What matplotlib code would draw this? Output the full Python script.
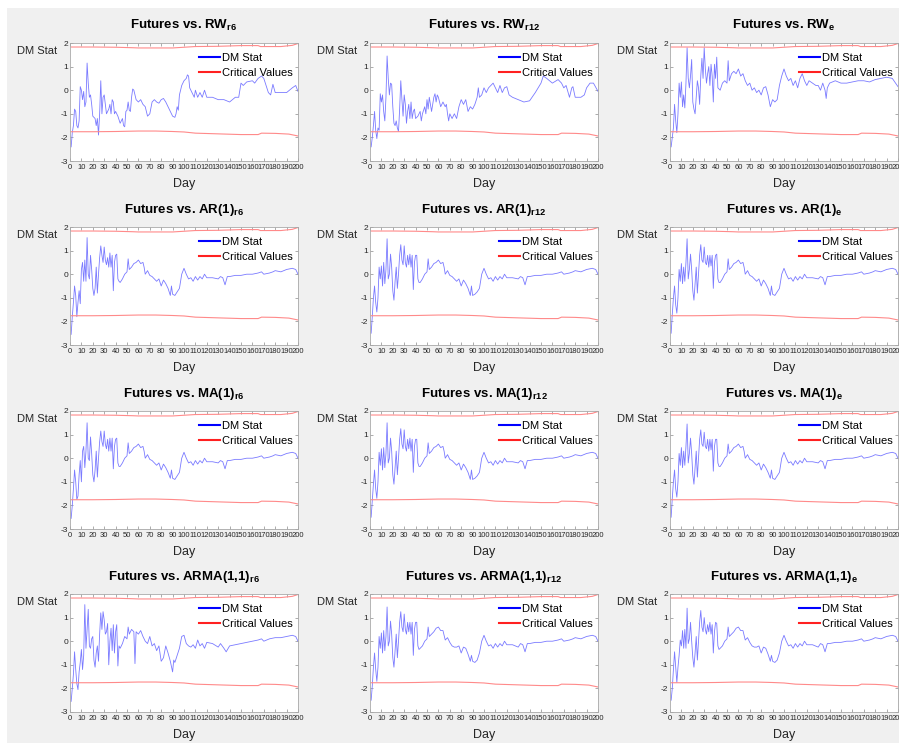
import matplotlib
matplotlib.use("Agg")
import matplotlib.pyplot as plt
import matplotlib.font_manager as fm
from matplotlib.patches import Rectangle
from matplotlib.lines import Line2D

# ---- data: (day, DM statistic) ----
rw_r6 = [(1,-2.4),(2,-1.8),(3,-1.5),(4,-0.8),(5,-0.9),(6,-1.5),(7,-1.6),(8,-1.3),(9,0.15),(10,0.0),
         (11,-0.4),(12,-0.05),(13,-0.7),(14,-0.5),(15,1.15),(16,0.3),(17,-0.3),(18,-0.2),(19,-0.6),(20,-1.1),
         (22,-1.2),(23,-1.5),(24,-1.2),(25,-1.9),(26,-1.0),(27,0.4),(28,-1.0),(29,-0.3),(30,-0.2),(31,-0.6),
         (32,-1.0),(34,-0.8),(35,-0.6),(36,-1.0),(37,-0.4),(38,-0.5),(39,-1.0),(40,-0.9),(42,-1.1),(44,-1.4),
         (46,-1.2),(47,-1.5),(48,-1.55),(49,-0.9),(50,-0.85),(51,-0.5),(52,-0.85),(53,-0.9),(54,-0.3),(55,0.05),
         (56,0.0),(58,-0.4),(60,-0.5),(62,-0.4),(64,-0.6),(66,-0.7),(68,-1.1),(70,-1.0),(72,-0.5),(74,-0.4),
         (76,-0.5),(78,-0.55),(80,-0.4),(82,-0.35),(84,-0.5),(86,-0.7),(88,-0.9),(90,-1.1),(92,-1.15),(93,-1.0),
         (94,-0.7),(95,-0.85),(96,-0.2),(98,0.2),(100,0.4),(102,0.5),(103,0.65),(104,0.6),(105,0.1),(107,-0.1),
         (109,-0.3),(110,0.0),(112,-0.3),(114,-0.1),(116,-0.3),(118,0.0),(120,-0.3),(125,-0.3),(130,-0.4),(135,-0.4),
         (140,-0.5),(145,-0.3),(148,-0.3),(150,0.3),(152,0.2),(155,0.35),(160,0.4),(162,0.3),(165,0.5),(168,0.6),
         (170,0.5),(172,0.2),(174,-0.1),(176,-0.2),(178,0.25),(180,-0.1),(185,-0.1),(190,-0.1),(195,0.1),(198,0.2),
         (200,-0.05)]

rw_r12 = [(1,-2.4),(2,-2.0),(3,-1.5),(4,-0.9),(5,-1.7),(6,-2.05),(7,-1.6),(8,-1.7),(9,-0.15),(10,-0.5),
          (11,-0.2),(12,-0.9),(13,-1.3),(14,-0.3),(15,1.45),(16,0.5),(17,-0.2),(18,0.3),(19,0.25),(20,-0.7),
          (21,-1.4),(22,-1.5),(23,-1.3),(24,-1.6),(25,-1.75),(26,-0.8),(27,0.4),(28,-0.4),(29,-1.1),(30,-0.2),
          (31,-0.6),(32,-1.4),(33,-0.9),(34,-0.6),(35,-1.2),(36,-0.5),(37,-1.2),(38,-0.9),(39,-0.8),(40,-1.2),
          (42,-1.1),(44,-0.9),(45,-1.3),(46,-1.0),(48,-0.7),(49,-1.0),(50,-0.4),(51,-0.8),(52,-0.3),(54,-0.9),
          (56,-0.3),(57,-0.15),(58,-0.5),(59,-0.2),(60,-0.3),(62,-0.7),(64,-0.5),(66,-0.7),(67,-0.6),(68,-1.0),
          (69,-1.3),(70,-1.0),(72,-1.2),(74,-1.0),(76,-1.2),(78,-0.7),(80,-0.4),(82,-0.6),(84,-0.4),(86,-0.9),
          (88,-0.7),(90,-0.8),(92,-0.6),(94,-0.3),(95,0.1),(96,-0.3),(98,-0.2),(100,0.1),(102,-0.1),(104,0.1),
          (106,0.2),(108,0.3),(110,0.1),(112,-0.1),(114,0.2),(116,-0.1),(118,0.1),(120,0.15),(122,-0.2),(125,-0.3),
          (130,-0.4),(135,-0.5),(140,-0.45),(145,-0.1),(150,0.3),(152,0.6),(155,0.5),(160,0.3),(165,0.45),(168,0.3),
          (170,0.1),(172,0.2),(175,-0.3),(177,0.1),(178,0.15),(180,-0.3),(185,-0.3),(188,-0.2),(190,0.1),(193,0.3),
          (196,0.3),(200,-0.05)]

rw_e = [(1,-2.4),(2,-2.0),(3,-1.6),(4,-0.6),(5,-1.3),(6,-1.8),(7,-1.0),(8,0.3),(9,-0.3),(10,0.35),
        (11,-0.7),(12,-0.2),(13,-0.75),(14,0.3),(15,1.8),(16,0.5),(17,0.1),(18,0.6),(19,1.3),(20,-0.5),
        (21,-0.8),(22,-1.0),(23,-0.3),(24,0.4),(25,0.1),(26,-0.6),(27,0.6),(28,1.35),(29,0.5),(30,1.8),
        (31,0.9),(32,0.3),(33,0.7),(34,1.0),(35,0.2),(36,1.1),(37,0.6),(38,-0.5),(39,1.1),(40,0.5),
        (41,1.4),(42,0.1),(44,0.0),(46,0.3),(48,0.4),(50,0.3),(51,1.25),(52,0.4),(54,0.7),(56,0.8),
        (58,0.7),(60,0.9),(62,0.6),(64,0.7),(66,0.4),(68,0.2),(70,0.3),(72,0.0),(74,0.1),(76,-0.1),
        (78,0.0),(80,-0.2),(82,0.1),(84,0.15),(86,-0.2),(88,-0.7),(90,-0.4),(92,-0.5),(94,-0.4),(96,0.2),
        (98,0.6),(100,0.9),(102,0.6),(104,0.4),(106,0.5),(108,0.2),(110,0.4),(112,0.1),(114,0.5),(116,0.7),
        (118,0.4),(120,0.2),(122,0.4),(125,0.3),(128,0.2),(130,0.2),(132,0.0),(134,0.3),(136,0.0),(137,-0.35),
        (138,0.1),(140,0.3),(145,0.4),(150,0.3),(155,0.3),(160,0.35),(165,0.4),(170,0.4),(175,0.35),(180,0.45),
        (185,0.5),(190,0.55),(195,0.5),(200,0.15)]

ar_r6 = [(1,-2.55),(2,-1.8),(3,-1.2),(4,-0.5),(5,-0.9),(6,-1.8),(7,-1.2),(8,-0.7),(9,-1.25),(10,0.2),
         (11,0.5),(12,-0.3),(13,0.6),(14,-0.3),(15,1.55),(16,0.0),(17,-0.2),(18,0.8),(19,0.2),(20,-0.6),
         (21,-0.9),(22,-0.6),(23,0.3),(24,-0.8),(25,0.0),(26,0.7),(27,1.2),(28,0.8),(29,0.5),(30,1.15),
         (31,0.6),(32,0.4),(33,0.7),(34,0.3),(35,0.9),(36,0.3),(37,0.8),(38,-0.7),(39,0.5),(40,0.8),
         (41,0.85),(42,-0.2),(43,-0.3),(44,-0.35),(46,-0.2),(48,0.0),(50,0.1),(51,0.65),(52,0.2),(54,0.3),
         (56,0.45),(58,0.5),(60,0.6),(62,0.45),(64,0.5),(65,0.3),(66,0.0),(68,0.15),(70,-0.05),(72,-0.1),
         (74,-0.2),(76,-0.3),(78,-0.2),(80,-0.5),(82,-0.25),(84,-0.4),(86,-0.6),(88,-0.9),(89,-0.5),(90,-0.85),
         (92,-0.9),(94,-0.75),(96,-0.6),(98,0.0),(100,0.25),(102,0.0),(104,-0.2),(106,-0.15),(108,-0.3),(110,-0.1),
         (112,-0.25),(114,-0.1),(116,-0.2),(118,0.0),(120,-0.15),(125,-0.15),(130,-0.2),(132,-0.1),(134,-0.15),(136,-0.45),
         (138,-0.1),(140,-0.1),(145,-0.05),(150,-0.05),(155,0.0),(160,0.0),(165,0.05),(168,0.1),(170,0.0),(175,0.05),
         (178,0.1),(180,0.15),(185,0.1),(190,0.2),(195,0.25),(198,0.2),(200,0.0)]

ar_r12 = [(1,-2.5),(2,-1.8),(3,-1.0),(4,-0.5),(5,-1.2),(6,-1.6),(7,-1.0),(8,0.3),(9,-0.2),(10,0.35),
          (11,-0.5),(12,0.5),(13,-0.4),(14,0.2),(15,1.5),(16,-0.2),(17,0.0),(18,0.85),(19,0.3),(20,-0.7),
          (21,-1.1),(22,-0.3),(23,0.3),(24,-0.6),(25,0.0),(26,0.8),(27,1.25),(28,0.6),(29,0.4),(30,1.2),
          (31,0.5),(32,0.3),(33,0.8),(34,0.4),(35,0.85),(36,0.3),(37,0.8),(38,-0.65),(39,0.5),(40,0.8),
          (41,0.8),(42,-0.2),(43,-0.35),(44,-0.35),(46,-0.2),(48,0.0),(50,0.1),(51,0.65),(52,0.2),(54,0.3),
          (56,0.45),(58,0.5),(60,0.6),(62,0.45),(64,0.5),(65,0.3),(66,0.0),(68,0.15),(70,-0.05),(72,-0.1),
          (74,-0.2),(76,-0.3),(78,-0.2),(80,-0.5),(82,-0.25),(84,-0.4),(86,-0.6),(88,-0.9),(89,-0.5),(90,-0.9),
          (92,-0.85),(94,-0.75),(96,-0.6),(98,0.0),(100,0.25),(102,0.0),(104,-0.2),(106,-0.15),(108,-0.3),(110,-0.1),
          (112,-0.25),(114,-0.1),(116,-0.2),(118,0.0),(120,-0.15),(125,-0.15),(130,-0.2),(132,-0.1),(134,-0.15),(136,-0.45),
          (138,-0.1),(140,-0.1),(145,-0.05),(150,-0.05),(155,0.0),(160,0.0),(165,0.05),(168,0.1),(170,0.0),(175,0.05),
          (178,0.1),(180,0.15),(185,0.1),(190,0.2),(195,0.25),(198,0.2),(200,0.0)]

ar_e = [(1,-2.5),(2,-1.7),(3,-1.0),(4,-0.5),(5,-1.3),(6,-1.65),(7,-1.0),(8,0.2),(9,-0.3),(10,0.45),
        (11,-0.4),(12,0.3),(13,-0.3),(14,0.5),(15,1.5),(16,-0.2),(17,0.2),(18,0.85),(19,0.2),(20,-0.7),
        (21,-1.1),(22,-0.4),(23,0.3),(24,-0.8),(25,0.0),(26,0.8),(27,1.25),(28,0.6),(29,0.5),(30,1.15),
        (31,0.5),(32,0.4),(33,0.8),(34,0.3),(35,0.8),(36,0.35),(37,0.8),(38,-0.6),(39,0.5),(40,0.8),
        (41,0.85),(42,-0.2),(43,-0.35),(44,-0.35),(46,-0.2),(48,0.0),(50,0.1),(51,0.65),(52,0.2),(54,0.3),
        (56,0.45),(58,0.5),(60,0.6),(62,0.45),(64,0.5),(65,0.3),(66,0.0),(68,0.15),(70,-0.05),(72,-0.1),
        (74,-0.2),(76,-0.3),(78,-0.2),(80,-0.5),(82,-0.25),(84,-0.4),(86,-0.6),(88,-0.9),(89,-0.5),(90,-0.85),
        (92,-0.9),(94,-0.75),(96,-0.6),(98,0.0),(100,0.25),(102,0.0),(104,-0.2),(106,-0.15),(108,-0.3),(110,-0.1),
        (112,-0.25),(114,-0.1),(116,-0.2),(118,0.0),(120,-0.15),(125,-0.15),(130,-0.2),(132,-0.1),(134,-0.15),(136,-0.45),
        (138,-0.1),(140,-0.1),(145,-0.05),(150,-0.05),(155,0.0),(160,0.0),(165,0.05),(168,0.1),(170,0.0),(175,0.05),
        (178,0.1),(180,0.15),(185,0.1),(190,0.2),(195,0.25),(198,0.2),(200,0.0)]

ma_r6 = [(1,-2.55),(2,-2.0),(3,-1.3),(4,-0.5),(5,-1.0),(6,-1.75),(7,-1.6),(8,-0.7),(9,-0.1),(10,-1.0),
         (11,0.3),(12,0.5),(13,-0.4),(14,0.3),(15,1.5),(16,0.0),(17,-0.1),(18,0.9),(19,0.2),(20,-0.7),
         (21,-1.0),(22,-0.5),(23,0.3),(24,-0.8),(25,0.0),(26,0.7),(27,1.15),(28,0.7),(29,0.5),(30,1.15),
         (31,0.6),(32,0.4),(33,0.8),(34,0.3),(35,0.85),(36,0.3),(37,0.85),(38,-0.45),(39,0.5),(40,0.8),
         (41,0.85),(42,-0.2),(43,-0.35),(44,-0.35),(46,-0.2),(48,0.0),(50,0.1),(51,0.65),(52,0.2),(54,0.3),
         (56,0.45),(58,0.5),(60,0.6),(62,0.45),(64,0.5),(65,0.3),(66,0.0),(68,0.15),(70,-0.05),(72,-0.1),
         (74,-0.2),(76,-0.3),(78,-0.2),(80,-0.5),(82,-0.25),(84,-0.4),(86,-0.6),(88,-0.85),(89,-0.5),(90,-0.85),
         (92,-0.9),(94,-0.75),(96,-0.6),(98,0.0),(100,0.25),(102,0.0),(104,-0.2),(106,-0.15),(108,-0.3),(110,-0.1),
         (112,-0.25),(114,-0.1),(116,-0.2),(118,0.0),(120,-0.15),(125,-0.15),(130,-0.2),(132,-0.1),(134,-0.15),(136,-0.45),
         (138,-0.1),(140,-0.1),(145,-0.05),(150,-0.05),(155,0.0),(160,0.0),(165,0.05),(168,0.1),(170,0.0),(175,0.05),
         (178,0.1),(180,0.15),(185,0.1),(190,0.2),(195,0.25),(198,0.2),(200,0.0)]

ma_r12 = [(1,-2.5),(2,-1.8),(3,-1.1),(4,-0.5),(5,-1.3),(6,-1.7),(7,-1.0),(8,0.25),(9,-0.3),(10,0.4),
          (11,-0.5),(12,0.45),(13,-0.4),(14,0.2),(15,1.5),(16,-0.2),(17,0.0),(18,0.85),(19,0.3),(20,-0.7),
          (21,-1.1),(22,-0.4),(23,0.3),(24,-0.7),(25,0.0),(26,0.8),(27,1.25),(28,0.6),(29,0.4),(30,1.2),
          (31,0.5),(32,0.3),(33,0.8),(34,0.4),(35,0.85),(36,0.3),(37,0.8),(38,-0.6),(39,0.5),(40,0.8),
          (41,0.8),(42,-0.2),(43,-0.35),(44,-0.35),(46,-0.2),(48,0.0),(50,0.1),(51,0.65),(52,0.2),(54,0.3),
          (56,0.45),(58,0.5),(60,0.6),(62,0.45),(64,0.5),(65,0.3),(66,0.0),(68,0.15),(70,-0.05),(72,-0.1),
          (74,-0.2),(76,-0.3),(78,-0.2),(80,-0.5),(82,-0.25),(84,-0.4),(86,-0.6),(88,-0.9),(89,-0.5),(90,-0.9),
          (92,-0.85),(94,-0.75),(96,-0.6),(98,0.0),(100,0.25),(102,0.0),(104,-0.2),(106,-0.15),(108,-0.3),(110,-0.1),
          (112,-0.25),(114,-0.1),(116,-0.2),(118,0.0),(120,-0.15),(125,-0.15),(130,-0.2),(132,-0.1),(134,-0.15),(136,-0.45),
          (138,-0.1),(140,-0.1),(145,-0.05),(150,-0.05),(155,0.0),(160,0.0),(165,0.05),(168,0.1),(170,0.0),(175,0.05),
          (178,0.1),(180,0.15),(185,0.1),(190,0.2),(195,0.25),(198,0.2),(200,0.0)]

ma_e = [(1,-2.5),(2,-1.7),(3,-1.0),(4,-0.5),(5,-1.3),(6,-1.65),(7,-1.0),(8,0.2),(9,-0.3),(10,0.45),
        (11,-0.4),(12,0.3),(13,-0.3),(14,0.5),(15,1.45),(16,-0.2),(17,0.2),(18,0.85),(19,0.2),(20,-0.7),
        (21,-1.1),(22,-0.4),(23,0.3),(24,-0.8),(25,0.0),(26,0.8),(27,1.2),(28,0.6),(29,0.5),(30,1.1),
        (31,0.5),(32,0.4),(33,0.8),(34,0.3),(35,0.8),(36,0.35),(37,0.8),(38,-0.55),(39,0.5),(40,0.8),
        (41,0.8),(42,-0.2),(43,-0.35),(44,-0.35),(46,-0.2),(48,0.0),(50,0.1),(51,0.6),(52,0.2),(54,0.3),
        (56,0.45),(58,0.5),(60,0.6),(62,0.45),(64,0.5),(65,0.3),(66,0.0),(68,0.15),(70,-0.05),(72,-0.1),
        (74,-0.2),(76,-0.3),(78,-0.2),(80,-0.5),(82,-0.25),(84,-0.4),(86,-0.6),(88,-0.85),(89,-0.5),(90,-0.85),
        (92,-0.9),(94,-0.75),(96,-0.6),(98,0.0),(100,0.25),(102,0.0),(104,-0.2),(106,-0.15),(108,-0.3),(110,-0.1),
        (112,-0.25),(114,-0.1),(116,-0.2),(118,0.0),(120,-0.15),(125,-0.15),(130,-0.2),(132,-0.1),(134,-0.15),(136,-0.45),
        (138,-0.1),(140,-0.1),(145,-0.05),(150,-0.05),(155,0.0),(160,0.0),(165,0.05),(168,0.1),(170,0.0),(175,0.05),
        (178,0.1),(180,0.15),(185,0.1),(190,0.2),(195,0.25),(198,0.2),(200,0.0)]

arma_r6 = [(1,-2.55),(2,-2.0),(3,-1.4),(4,-0.45),(5,-1.2),(6,-1.8),(7,-2.05),(8,-1.3),(9,-0.9),(10,-0.35),
           (11,-1.2),(12,-0.6),(13,1.55),(14,-0.3),(15,0.5),(16,1.35),(17,-0.2),(18,-0.3),(19,0.1),(20,0.2),
           (21,-0.8),(22,-1.1),(23,-0.5),(24,-0.2),(25,-0.85),(26,0.3),(27,1.2),(28,0.5),(29,1.25),(30,0.9),
           (31,0.3),(32,0.4),(33,0.75),(34,-1.0),(35,0.0),(36,0.55),(37,-0.4),(38,0.7),(39,-0.5),(40,0.4),
           (41,0.7),(42,-1.05),(43,-0.2),(44,-0.3),(46,-0.1),(48,0.2),(50,0.1),(51,0.6),(52,0.3),(54,0.5),
           (56,0.4),(57,-0.95),(58,0.4),(60,0.3),(62,0.45),(64,0.2),(66,0.0),(68,-0.1),(70,0.2),(72,-0.2),
           (74,-0.1),(76,-0.4),(78,-0.2),(80,-0.85),(82,-0.7),(84,-0.2),(86,-0.5),(88,-0.85),(90,-1.3),(91,-0.8),
           (92,-0.9),(94,-0.6),(96,-0.3),(98,0.2),(100,0.25),(102,-0.1),(104,-0.2),(106,-0.25),(108,-0.15),(110,-0.3),
           (112,0.05),(114,-0.2),(116,-0.1),(118,-0.3),(120,-0.05),(125,-0.1),(130,-0.25),(132,-0.1),(135,-0.3),(137,-0.45),
           (140,-0.2),(145,-0.15),(150,-0.1),(155,-0.05),(160,0.0),(165,0.05),(168,0.1),(170,0.0),(175,0.1),(180,0.15),
           (185,0.15),(190,0.2),(195,0.25),(198,0.2),(200,0.0)]

arma_r12 = [(1,-2.5),(2,-1.9),(3,-1.1),(4,-0.5),(5,-1.2),(6,-1.7),(7,-1.1),(8,0.2),(9,-0.3),(10,0.35),
            (11,-0.5),(12,0.45),(13,-0.4),(14,0.2),(15,1.45),(16,-0.2),(17,0.0),(18,0.85),(19,0.3),(20,-0.7),
            (21,-1.1),(22,-0.4),(23,0.3),(24,-0.7),(25,0.0),(26,0.8),(27,1.25),(28,0.6),(29,0.4),(30,1.15),
            (31,0.5),(32,0.3),(33,0.8),(34,0.4),(35,0.8),(36,0.3),(37,0.8),(38,-0.6),(39,0.5),(40,0.8),
            (41,0.8),(42,-0.2),(43,-0.35),(44,-0.3),(46,-0.2),(48,0.0),(50,0.1),(51,0.6),(52,0.2),(54,0.3),
            (56,0.4),(58,0.55),(60,0.6),(62,0.45),(64,0.45),(66,0.05),(68,0.15),(70,-0.05),(72,-0.2),(74,-0.25),
            (76,-0.25),(78,-0.2),(80,-0.5),(82,-0.25),(84,-0.3),(86,-0.55),(88,-0.85),(89,-0.6),(90,-0.85),(92,-0.9),
            (94,-0.8),(96,-0.5),(98,0.0),(100,0.25),(102,0.0),(104,-0.2),(106,-0.15),(108,-0.3),(110,-0.1),(112,-0.25),
            (114,-0.1),(116,-0.2),(118,0.0),(120,-0.15),(125,-0.15),(130,-0.25),(132,-0.1),(134,-0.15),(136,-0.45),(138,-0.1),
            (140,-0.1),(145,-0.05),(150,-0.05),(155,0.0),(160,0.0),(165,0.05),(168,0.1),(170,0.0),(175,0.05),(178,0.1),
            (180,0.15),(185,0.1),(190,0.2),(195,0.25),(198,0.2),(200,0.0)]

arma_e = [(1,-2.5),(2,-2.0),(3,-1.2),(4,-0.45),(5,-1.1),(6,-1.75),(7,-1.1),(8,-0.6),(9,0.05),(10,-0.2),
          (11,0.45),(12,-0.3),(13,0.5),(14,-0.3),(15,1.4),(16,-0.1),(17,0.1),(18,0.8),(19,0.0),(20,-0.7),
          (21,-1.1),(22,-0.5),(23,0.2),(24,-0.8),(25,0.0),(26,0.8),(27,1.3),(28,0.6),(29,0.4),(30,1.0),
          (31,0.5),(32,0.3),(33,0.7),(34,0.4),(35,0.8),(36,0.3),(37,0.7),(38,-0.5),(39,0.4),(40,0.8),
          (41,0.75),(42,-0.2),(43,-0.35),(44,-0.3),(46,-0.2),(48,0.0),(50,0.1),(51,0.6),(52,0.2),(54,0.3),
          (56,0.4),(58,0.55),(60,0.6),(62,0.45),(64,0.45),(66,0.05),(68,0.15),(70,-0.05),(72,-0.2),(74,-0.25),
          (76,-0.25),(78,-0.2),(80,-0.5),(82,-0.25),(84,-0.3),(86,-0.55),(88,-0.85),(89,-0.6),(90,-0.85),(92,-0.9),
          (94,-0.8),(96,-0.5),(98,0.0),(100,0.25),(102,0.0),(104,-0.2),(106,-0.15),(108,-0.3),(110,-0.1),(112,-0.25),
          (114,-0.1),(116,-0.2),(118,0.0),(120,-0.15),(125,-0.15),(130,-0.25),(132,-0.1),(134,-0.15),(136,-0.45),(138,-0.1),
          (140,-0.1),(145,-0.05),(150,-0.05),(155,0.0),(160,0.0),(165,0.05),(168,0.1),(170,0.0),(175,0.05),(178,0.1),
          (180,0.15),(185,0.1),(190,0.2),(195,0.25),(198,0.2),(200,0.0)]

# critical values (same in every panel)
crit_upper = [(1,1.83),(20,1.83),(40,1.82),(55,1.8),(60,1.79),(90,1.79),(100,1.82),(110,1.85),(130,1.86),
              (150,1.89),(165,1.89),(167,1.85),(185,1.85),(195,1.9),(200,1.98)]
crit_lower = [(1,-1.76),(20,-1.76),(40,-1.75),(60,-1.73),(75,-1.73),(90,-1.75),(100,-1.77),(110,-1.82),
              (130,-1.85),(150,-1.88),(165,-1.88),(168,-1.82),(180,-1.83),(192,-1.86),(200,-1.94)]

models = ["RW", "AR(1)", "MA(1)", "ARMA(1,1)"]
subs = ["r6", "r12", "e"]
panels = [[rw_r6, rw_r12, rw_e],
          [ar_r6, ar_r12, ar_e],
          [ma_r6, ma_r12, ma_e],
          [arma_r6, arma_r12, arma_e]]

# ---- fonts ----
avail = {f.name for f in fm.fontManager.ttflist}
narrow = "Liberation Sans Narrow" if "Liberation Sans Narrow" in avail else "Liberation Sans"
plt.rcParams["font.family"] = [narrow, "DejaVu Sans"]
plt.rcParams["axes.unicode_minus"] = False
plt.rcParams["mathtext.fontset"] = "custom"
plt.rcParams["mathtext.rm"] = narrow + ":bold"
plt.rcParams["mathtext.it"] = narrow + ":bold"
plt.rcParams["mathtext.bf"] = narrow + ":bold"

W, H = 899, 743
fig = plt.figure(figsize=(W / 100, H / 100), dpi=100, facecolor="white")
fig.patches.append(Rectangle((7 / W, 0), 1 - 7 / W, 1 - 8 / H, transform=fig.transFigure,
                             facecolor="#f0f0f0", edgecolor="none", zorder=-10))

lefts = [70, 370, 670]
tops = [43, 227, 411, 594]
aw, ah = 228, 118

ud, uv = zip(*crit_upper)
ld, lv = zip(*crit_lower)

for r, m in enumerate(models):
    for c, s in enumerate(subs):
        ax = fig.add_axes([lefts[c] / W, 1 - (tops[r] + ah) / H, aw / W, ah / H])
        ax.set_facecolor("white")
        d, v = zip(*panels[r][c])
        ax.plot(d, v, color="#7a7aff", lw=0.6)
        ax.plot(ud, uv, color="#ff8a8a", lw=0.8)
        ax.plot(ld, lv, color="#ff8a8a", lw=0.8)

        ax.set_xlim(0, 200)
        ax.set_ylim(-3, 2)
        ax.set_xticks(range(0, 201, 10))
        ax.set_yticks([-3, -2, -1, 0, 1, 2])
        ax.tick_params(direction="in", length=2.2, width=0.5, colors="#8a8a8a",
                       labelcolor="#262626", labelsize=5.5, pad=2.5,
                       top=True, right=True)
        ax.tick_params(axis="y", pad=1.5, labelsize=6)
        for sp in ax.spines.values():
            sp.set_color("#a8a8a8")
            sp.set_linewidth(0.6)

        ax.set_title("Futures vs. %s$_{\\mathrm{%s}}$" % (m, s), fontsize=9.5,
                     fontweight="bold", pad=10)
        ax.set_xlabel("Day", fontsize=9, color="#262626", labelpad=5)
        ax.text(-0.057, 0.93, "DM Stat", transform=ax.transAxes, ha="right",
                va="center", fontsize=8, color="#262626")

        handles = [Line2D([], [], color="#0000ff", lw=1.5),
                   Line2D([], [], color="#ff2020", lw=1.5)]
        ax.legend(handles, ["DM Stat", "Critical Values"], loc="upper right",
                  bbox_to_anchor=(0.975, 0.915), frameon=False, fontsize=8,
                  handlelength=1.9, handletextpad=0.15, labelspacing=0.45,
                  borderaxespad=0, borderpad=0)

fig.savefig("out.png", dpi=100, facecolor=fig.get_facecolor())
